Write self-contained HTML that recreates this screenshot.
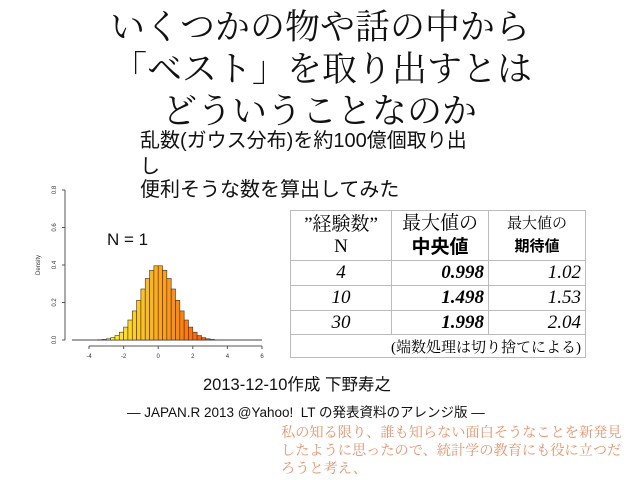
<!DOCTYPE html>
<html><head><meta charset="utf-8"><style>
body{margin:0;width:640px;height:480px;background:#fff;position:relative;overflow:hidden;font-family:"Liberation Sans","Noto Sans CJK JP",sans-serif;}
.a{position:absolute;white-space:nowrap;}
.t{font-family:"Liberation Serif","Noto Serif CJK JP",serif;font-size:35px;line-height:40px;color:#111;}
.s{font-size:20px;line-height:26px;color:#111;}
table{position:absolute;left:290px;top:210px;border-collapse:collapse;font-family:"Liberation Serif","Noto Serif CJK JP",serif;}
td{border:1px solid #bbb;padding:0 4px;}
</style></head><body>
<div class="a t" style="left:110px;top:8px;">いくつかの物や話の中から</div>
<div class="a t" style="left:112px;top:50px;">「ベスト」を取り出すとは</div>
<div class="a t" style="left:162px;top:92px;">どういうことなのか</div>
<div class="a s" style="left:140px;top:128px;">乱数(ガウス分布)を約100億個取り出</div>
<div class="a s" style="left:140px;top:154px;">し</div>
<div class="a s" style="left:140px;top:177px;">便利そうな数を算出してみた</div>
<svg class="a" style="left:0;top:0" width="640" height="480" id="sv">
<g font-size="6" fill="#333" font-family="Liberation Sans">
<line x1="65" y1="190" x2="65" y2="340" stroke="#555"/>
<g stroke="#555"><line x1="62" y1="190" x2="65" y2="190"/><line x1="62" y1="227.5" x2="65" y2="227.5"/><line x1="62" y1="265" x2="65" y2="265"/><line x1="62" y1="302.5" x2="65" y2="302.5"/><line x1="62" y1="340" x2="65" y2="340"/></g>
<text transform="translate(56,190) rotate(-90)" text-anchor="middle">0.8</text>
<text transform="translate(56,227.5) rotate(-90)" text-anchor="middle">0.6</text>
<text transform="translate(56,265) rotate(-90)" text-anchor="middle">0.4</text>
<text transform="translate(56,302.5) rotate(-90)" text-anchor="middle">0.2</text>
<text transform="translate(56,340) rotate(-90)" text-anchor="middle">0.0</text>
<text transform="translate(40,265) rotate(-90)" text-anchor="middle">Density</text>
<line x1="89" y1="346" x2="262" y2="346" stroke="#555"/>
<g stroke="#555"><line x1="89" y1="346" x2="89" y2="349"/><line x1="123.6" y1="346" x2="123.6" y2="349"/><line x1="158.2" y1="346" x2="158.2" y2="349"/><line x1="192.8" y1="346" x2="192.8" y2="349"/><line x1="227.4" y1="346" x2="227.4" y2="349"/><line x1="262" y1="346" x2="262" y2="349"/></g>
<g text-anchor="middle"><text x="89" y="358">-4</text><text x="123.6" y="358">-2</text><text x="158.2" y="358">0</text><text x="192.8" y="358">2</text><text x="227.4" y="358">4</text><text x="262" y="358">6</text></g>
<line x1="72" y1="340" x2="262" y2="340" stroke="#444"/>
</g>
<g id="bars"></g>
<text x="107" y="245" font-size="17" font-family="Liberation Sans" fill="#111">N  = 1</text>
</svg>
<table>
<tr style="height:50px"><td style="width:92px;text-align:center;font-size:19px;line-height:22px">”経験数”<br>N</td><td style="width:88px;text-align:center;font-size:19px;line-height:22px">最大値の<br><b style="font-family:'Noto Sans CJK JP',sans-serif">中央値</b></td><td style="width:88px;text-align:center;font-size:15px;line-height:22px">最大値の<br><b style="font-family:'Noto Sans CJK JP',sans-serif">期待値</b></td></tr>
<tr style="height:25px;font-size:19px;font-style:italic"><td style="text-align:center">4</td><td style="text-align:right"><b>0.998</b></td><td style="text-align:right">1.02</td></tr>
<tr style="height:25px;font-size:19px;font-style:italic"><td style="text-align:center">10</td><td style="text-align:right"><b>1.498</b></td><td style="text-align:right">1.53</td></tr>
<tr style="height:24px;font-size:19px;font-style:italic"><td style="text-align:center">30</td><td style="text-align:right"><b>1.998</b></td><td style="text-align:right">2.04</td></tr>
<tr style="height:23px"><td colspan="3" style="text-align:right;font-size:15px">(端数処理は切り捨てによる)</td></tr>
</table>
<div class="a" style="left:203px;top:371px;font-size:16.5px;color:#111">2013-12-10作成 下野寿之</div>
<div class="a" style="left:127px;top:401px;font-size:13.5px;color:#111">— JAPAN.R 2013 @Yahoo!&nbsp; LT の発表資料のアレンジ版 —</div>
<div class="a" style="left:281px;top:423px;font-size:14.2px;line-height:18px;color:#e8916a;font-family:'Noto Serif CJK JP',serif">私の知る限り、誰も知らない面白そうなことを新発見<br>したように思ったので、統計学の教育にも役に立つだ<br>ろうと考え、</div>
<script>
var g=document.getElementById('bars'),h='';
var ux=17.3,x0=158.2,uy=187.5,y0=340,w=0.25;
for(var a=-3.5;a<3.25;a+=w){var c=a+w/2,d=Math.exp(-c*c/2)/Math.sqrt(2*Math.PI);
var hh=d*uy,t=(a+3.5)/6.75,hue=60-45*t,l=50+10*(1-t);
h+='<rect x="'+(x0+a*ux)+'" y="'+(y0-hh)+'" width="'+(w*ux)+'" height="'+hh+'" fill="hsl('+hue+',100%,'+l+'%)" stroke="#333" stroke-width="0.6"/>';}
g.innerHTML=h;
</script>
</body></html>
